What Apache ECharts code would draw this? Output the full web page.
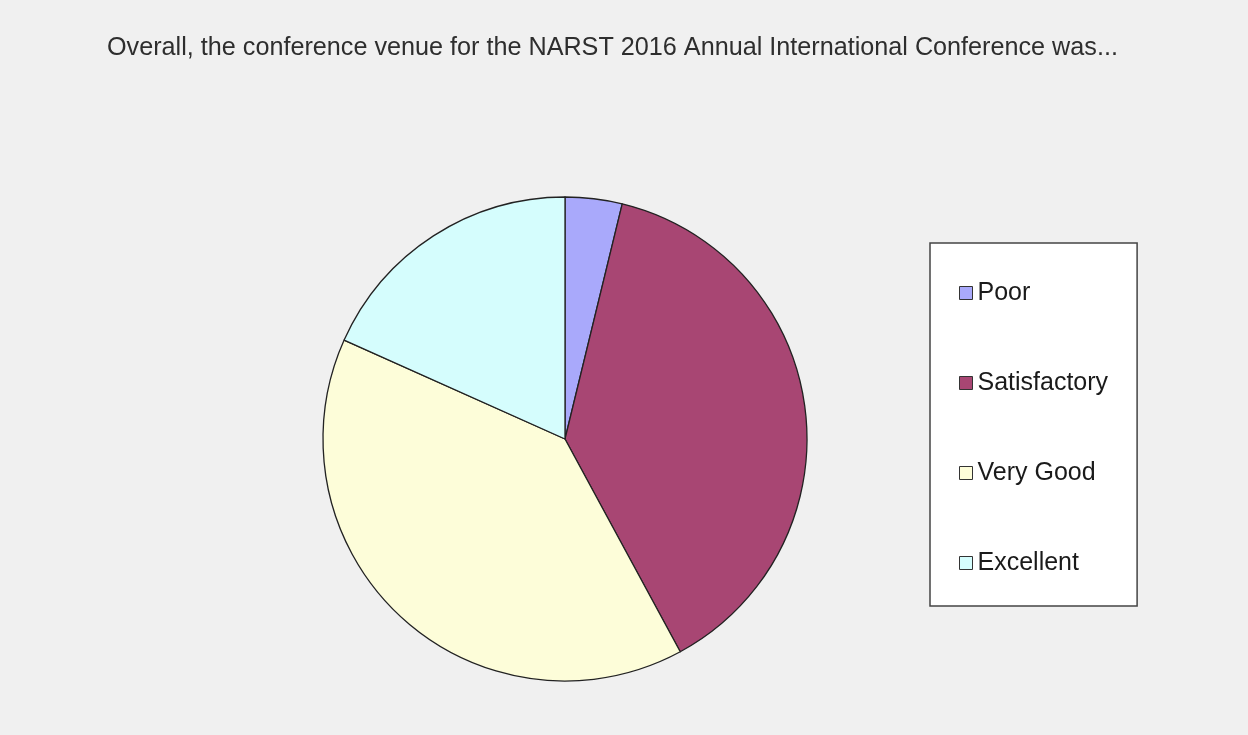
<!DOCTYPE html>
<html>
<head>
<meta charset="utf-8">
<script src="https://cdn.jsdelivr.net/npm/echarts@6/dist/echarts.min.js"></script>
<style>
html,body{margin:0;padding:0;background:#f0f0f0;}
#chart{width:1248px;height:735px;}
</style>
</head>
<body>
<div id="chart"></div>
<script>
const titleText = 'Overall, the conference venue for the NARST 2016 Annual International Conference was...';
const categories = ['Poor', 'Satisfactory', 'Very Good', 'Excellent'];
const values = [3.8, 38.3, 39.6, 18.3];
const colors = ['#a9a9fb', '#a84673', '#fdfdd9', '#d5fdfd'];

const chart = echarts.init(document.getElementById('chart'), null, {renderer: 'canvas'});
chart.setOption({
  backgroundColor: '#f0f0f0',
  animation: false,
  title: {
    text: titleText,
    left: 102,
    top: 31,
    textStyle: {fontFamily: 'Liberation Sans, Arial, sans-serif', fontSize: 25.2, fontWeight: 'normal', color: '#2e2e2e'}
  },
  legend: {
    orient: 'vertical',
    left: 930,
    top: 243,
    data: categories,
    icon: 'rect',
    itemWidth: 13,
    itemHeight: 13,
    itemGap: 64,
    padding: [37, 29, 30, 29],
    backgroundColor: '#ffffff',
    borderColor: '#444444',
    borderWidth: 1.5,
    textStyle: {fontFamily: 'Liberation Sans, Arial, sans-serif', fontSize: 25, color: '#1a1a1a', lineHeight: 26},
    itemStyle: {borderColor: '#333333', borderWidth: 1}
  },
  color: colors,
  series: [{
    type: 'pie',
    center: [565, 439],
    radius: 242,
    startAngle: 90,
    clockwise: true,
    label: {show: false},
    labelLine: {show: false},
    emphasis: {disabled: true},
    itemStyle: {borderColor: '#222222', borderWidth: 1.3},
    data: categories.map((c, i) => ({name: c, value: values[i]}))
  }]
});
</script>
</body>
</html>
